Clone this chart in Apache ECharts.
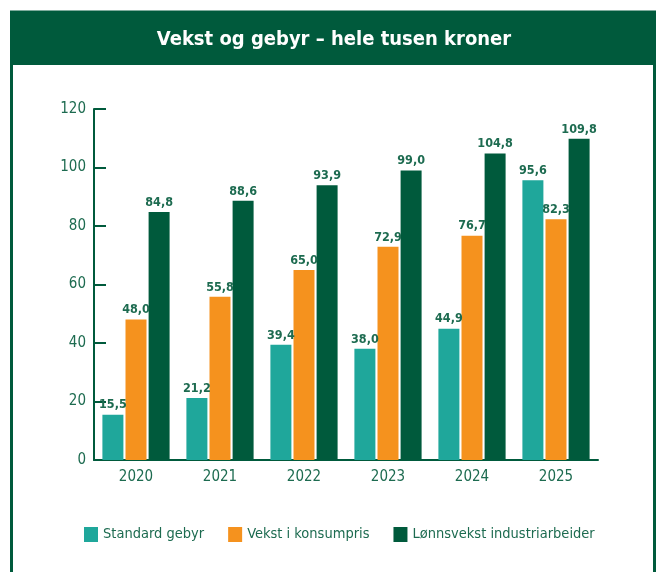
<!DOCTYPE html>
<html>
<head>
<meta charset="utf-8">
<script src="https://cdn.jsdelivr.net/npm/echarts@6/dist/echarts.min.js"></script>
<style>
  html, body { margin: 0; padding: 0; background: #fff; }
  #chart { width: 660px; height: 572px; }
</style>
</head>
<body>
<div id="chart"></div>
<script>
// data
const years = ['2020', '2021', '2022', '2023', '2024', '2025']
const standardGebyr = [15.5, 21.2, 39.4, 38.0, 44.9, 95.6]
const konsumpris = [48.0, 55.8, 65.0, 72.9, 76.7, 82.3]
const lonnsvekst = [84.8, 88.6, 93.9, 99.0, 104.8, 109.8]
const seriesNames = ['Standard gebyr', 'Vekst i konsumpris', 'Lønnsvekst industriarbeider']

const darkGreen = '#005a3c'
const textGreen = '#1d6b50'
const font = '"DejaVu Sans Condensed", sans-serif'

const chart = echarts.init(document.getElementById('chart'))

// label with comma decimal
const valueLabel = {
  show: true,
  position: 'top',
  distance: 3,
  color: textGreen,
  fontFamily: font,
  fontWeight: 'bold',
  fontSize: 12.5,
  formatter: (p) => p.value.toFixed(1).replace('.', ',')
}

const makeSeries = (name, data, color) => ({
  name: name,
  type: 'bar',
  data: data,
  barWidth: 21,
  barGap: '10%',
  itemStyle: { color: color },
  label: valueLabel
})

chart.setOption({
  animation: false,
  textStyle: { fontFamily: font },
  graphic: [
    // outer frame
    {
      type: 'rect',
      shape: { x: 11.5, y: 12, width: 643, height: 600 },
      style: { fill: 'none', stroke: darkGreen, lineWidth: 3 }
    },
    // title band
    {
      type: 'rect',
      shape: { x: 10, y: 12, width: 646, height: 53 },
      style: { fill: darkGreen }
    },
    {
      type: 'text',
      x: 334,
      y: 40,
      style: {
        text: 'Vekst og gebyr – hele tusen kroner',
        fill: '#fff',
        font: 'bold 20px ' + font,
        textAlign: 'center',
        textVerticalAlign: 'middle'
      }
    }
  ],
  legend: {
    data: seriesNames,
    left: 79,
    top: 522,
    itemWidth: 14,
    itemHeight: 15,
    itemGap: 24,
    icon: 'rect',
    textStyle: { color: textGreen, fontSize: 14.5, fontFamily: font }
  },
  grid: { left: 94, right: 62, top: 109, bottom: 112 },
  xAxis: {
    type: 'category',
    data: years,
    axisLine: { lineStyle: { color: darkGreen, width: 2 } },
    axisTick: { inside: true, length: 8, lineStyle: { color: darkGreen, width: 2 } },
    axisLabel: { color: textGreen, fontSize: 15, margin: 10, fontFamily: font }
  },
  yAxis: {
    type: 'value',
    min: 0,
    max: 120,
    interval: 20,
    splitLine: { show: false },
    axisLine: { show: true, lineStyle: { color: darkGreen, width: 2 } },
    axisTick: { show: true, inside: true, length: 12, lineStyle: { color: darkGreen, width: 2 } },
    axisLabel: { color: textGreen, fontSize: 15, margin: 8, fontFamily: font }
  },
  series: [
    makeSeries(seriesNames[0], standardGebyr, '#1fa79b'),
    makeSeries(seriesNames[1], konsumpris, '#f5921e'),
    makeSeries(seriesNames[2], lonnsvekst, darkGreen)
  ]
})

window.addEventListener('resize', () => chart.resize())
</script>
</body>
</html>
